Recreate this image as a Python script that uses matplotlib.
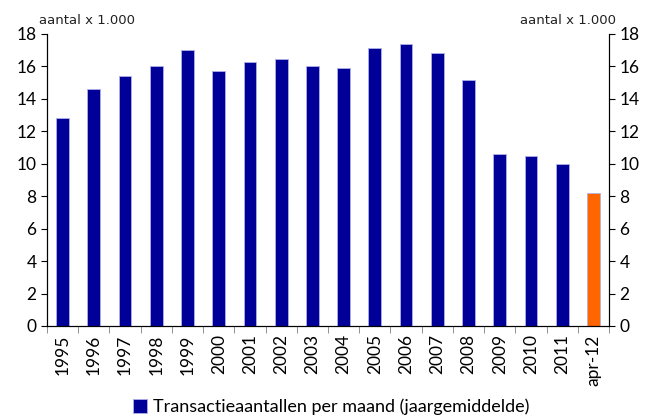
import matplotlib.pyplot as plt
import numpy as np
from matplotlib.patches import Patch

# Transactieaantallen per maand (x 1.000)
jaren = ['1995', '1996', '1997', '1998', '1999', '2000', '2001', '2002', '2003',
         '2004', '2005', '2006', '2007', '2008', '2009', '2010', '2011', 'apr-12']
aantallen = [12.82, 14.59, 15.39, 16.01, 17.0, 15.72, 16.26, 16.46, 16.05,
             15.93, 17.16, 17.41, 16.81, 15.15, 10.58, 10.48, 10.0, 8.19]

blauw = '#000099'
oranje = '#ff6600'
kleuren = [blauw] * (len(jaren) - 1) + [oranje]

fig = plt.figure(figsize=(6.49, 4.19), dpi=100)
ax = fig.add_axes([0.0724, 0.222, 0.866, 0.697])

x = np.arange(len(jaren))
ax.bar(x, aantallen, width=0.41, color=kleuren, edgecolor='#b0b0e8', linewidth=0.6)

ax.set_xlim(-0.5, len(jaren) - 0.5)
ax.set_ylim(0, 18)
ax.set_yticks(range(0, 19, 2))
ax.set_xticks(x)
ax.set_xticklabels(jaren, rotation=90, fontsize=12.5, family='Lato')
ax.tick_params(axis='x', length=0, pad=6)
ax.set_xticks(np.arange(-0.5, len(jaren), 1), minor=True)
ax.tick_params(axis='x', which='minor', length=5, color='#808080', direction='out')
ax.tick_params(axis='y', labelsize=12.5, length=4, direction='out')
for lab in ax.get_yticklabels():
    lab.set_family('Lato')
ax.spines['top'].set_visible(False)

ax2 = ax.twinx()
ax2.set_ylim(0, 18)
ax2.set_yticks(range(0, 19, 2))
ax2.tick_params(axis='y', labelsize=12.5, length=4, direction='out')
for lab in ax2.get_yticklabels():
    lab.set_family('Lato')
ax2.spines['top'].set_visible(False)

fig.text(0.06, 0.951, 'aantal x 1.000', fontsize=9.5, color='#222222', va='center')
fig.text(0.949, 0.951, 'aantal x 1.000', fontsize=9.5, color='#222222', va='center', ha='right')

handle = Patch(facecolor=blauw, edgecolor='#b0b0e8', linewidth=0.6)
fig.legend([handle], ['Transactieaantallen per maand (jaargemiddelde)'],
           loc='lower center', bbox_to_anchor=(0.51, -0.03), frameon=False,
           prop={'family': 'Lato', 'size': 13}, handlelength=0.8, handleheight=0.8,
           handletextpad=0.3)

fig.savefig('out.png', dpi=100)
